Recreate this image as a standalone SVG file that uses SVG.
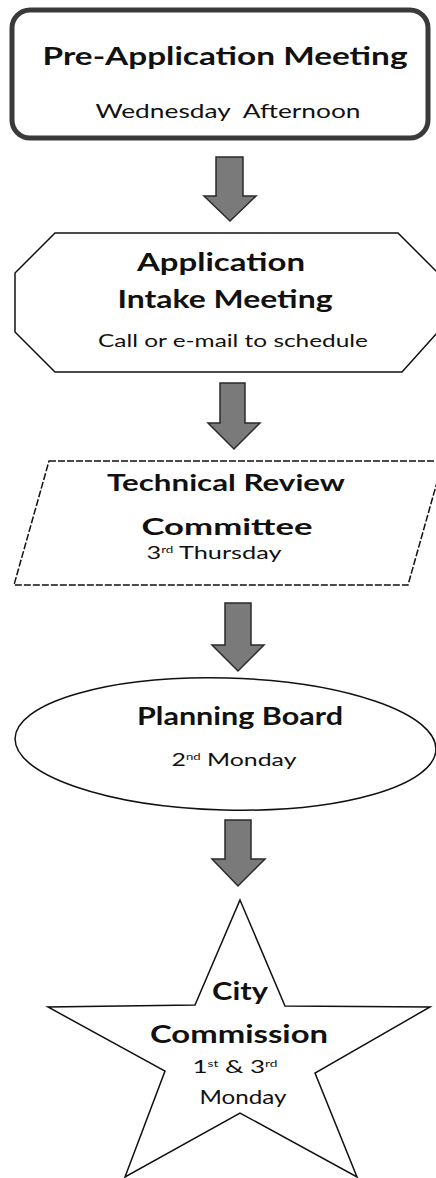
<svg xmlns="http://www.w3.org/2000/svg" width="436" height="1178" viewBox="0 0 436 1178">
<style>
.b{font-family:Lato,"Open Sans","Liberation Sans",sans-serif;font-weight:bold;fill:#111;text-anchor:middle}
.r{font-family:Lato,"Open Sans","Liberation Sans",sans-serif;font-weight:normal;fill:#111;text-anchor:middle}
.shape{fill:#fff;stroke:#111;stroke-width:1.5}
.arrow{fill:#7a7a7a;stroke:#2a2a2a;stroke-width:1.5;stroke-linejoin:miter}
</style>
<rect width="436" height="1178" fill="#fff"/>
<g id="connectors">
<path class="arrow" d="M216,157 H243 V196 H256 L230,221 L204,196 H216 Z"/>
<path class="arrow" d="M220,383 H245 V423 H260 L234,449 L208,423 H220 Z"/>
<path class="arrow" d="M225,603 H251 V645 H264 L238,671 L212,645 H225 Z"/>
<path class="arrow" d="M225,820 H251 V859 H265 L238,886 L212,859 H225 Z"/>
</g>
<g id="pre-application">
<rect x="12" y="10" width="416" height="128" rx="18" fill="#fff" stroke="#3a3a3a" stroke-width="5"/>
<text class="b" x="225" y="65" font-size="25" textLength="365" lengthAdjust="spacingAndGlyphs">Pre-Application Meeting</text>
<text class="r" x="228" y="118" font-size="19" textLength="265" lengthAdjust="spacingAndGlyphs" xml:space="preserve">Wednesday  Afternoon</text>
</g>
<g id="intake">
<polygon class="shape" points="55,233 398,233 437,272 437,333 402,372 55,372 15,332 15,273"/>
<text class="b" x="221" y="271" font-size="25" textLength="168" lengthAdjust="spacingAndGlyphs">Application</text>
<text class="b" x="225" y="308" font-size="25" textLength="215" lengthAdjust="spacingAndGlyphs">Intake Meeting</text>
<text class="r" x="233" y="347" font-size="18" textLength="270" lengthAdjust="spacingAndGlyphs">Call or e-mail to schedule</text>
</g>
<g id="technical-review">
<polygon class="shape" stroke-dasharray="7 2" points="49,461 443,461 408,585 14,585"/>
<text class="b" x="226" y="491" font-size="22" textLength="238" lengthAdjust="spacingAndGlyphs">Technical Review</text>
<text class="b" x="227" y="535" font-size="22" textLength="171" lengthAdjust="spacingAndGlyphs">Committee</text>
<text class="r" x="214" y="559" font-size="17" textLength="135" lengthAdjust="spacingAndGlyphs">3<tspan font-size="9" dy="-6">rd</tspan><tspan dy="6"> Thursday</tspan></text>
</g>
<g id="planning-board">
<ellipse class="shape" cx="225.5" cy="744" rx="210.5" ry="66" transform="rotate(1.5 225.5 744)"/>
<text class="b" x="240" y="725" font-size="24" textLength="206" lengthAdjust="spacingAndGlyphs">Planning Board</text>
<text class="r" x="234" y="766" font-size="17" textLength="125" lengthAdjust="spacingAndGlyphs">2<tspan font-size="9" dy="-6">nd</tspan><tspan dy="6"> Monday</tspan></text>
</g>
<g id="city-commission">
<polygon class="shape" stroke-width="1.2" points="240,900 285,1006 430,1007 315,1073 357,1177 240,1113 125,1177 165,1071 48,1007 195,1005"/>
<text class="b" x="240" y="1000" font-size="25" textLength="56" lengthAdjust="spacingAndGlyphs">City</text>
<text class="b" x="239" y="1043" font-size="25" textLength="178" lengthAdjust="spacingAndGlyphs">Commission</text>
<text class="r" x="235" y="1073" font-size="17" textLength="85" lengthAdjust="spacingAndGlyphs">1<tspan font-size="9" dy="-6">st</tspan><tspan dy="6"> &amp; 3</tspan><tspan font-size="9" dy="-6">rd</tspan></text>
<text class="r" x="243" y="1104" font-size="20" textLength="87" lengthAdjust="spacingAndGlyphs">Monday</text>
</g>
</svg>
